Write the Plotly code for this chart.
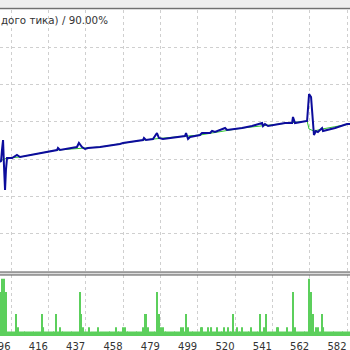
import plotly.graph_objects as go

# ---- data ----
trades = list(range(390, 584))
lots = [
    1.0, 1.3, 1.3, 1.0, 0.1, 0.1, 0.1, 0.1, 0.1, 0.5,
    0.2, 0.1, 0.1, 0.1, 0.1, 0.1, 0.1, 0.1, 0.1, 0.1,
    0.1, 0.1, 0.1, 0.5, 0.2, 0.1, 0.1, 0.1, 0.1, 0.1,
    0.1, 0.5, 0.1, 0.2, 0.1, 0.1, 0.1, 0.1, 0.1, 0.1,
    0.1, 0.1, 0.1, 0.1, 1.0, 0.5, 0.2, 0.1, 0.1, 0.2,
    0.1, 0.1, 0.1, 0.1, 0.2, 0.1, 0.1, 0.1, 0.1, 0.1,
    0.1, 0.1, 0.1, 0.1, 0.2, 0.1, 0.1, 0.1, 0.2, 0.2,
    0.1, 0.1, 0.1, 0.1, 0.1, 0.1, 0.1, 0.1, 0.1, 0.2,
    0.5, 0.5, 0.2, 0.1, 0.1, 0.1, 0.1, 1.0, 0.5, 0.2,
    0.2, 0.1, 0.1, 0.1, 0.1, 0.1, 0.1, 0.1, 0.1, 0.1,
    0.2, 0.2, 0.1, 0.5, 0.2, 0.1, 0.1, 0.1, 0.1, 0.1,
    0.1, 0.2, 0.2, 0.1, 0.1, 0.2, 0.1, 0.2, 0.1, 0.1,
    0.2, 0.1, 0.1, 0.1, 0.2, 0.1, 0.2, 0.1, 0.1, 0.5,
    0.1, 0.2, 0.1, 0.1, 0.2, 0.1, 0.1, 0.1, 0.1, 0.2,
    0.1, 0.1, 0.1, 0.1, 0.5, 0.1, 0.2, 0.5, 0.1, 0.1,
    0.1, 0.1, 0.1, 0.2, 0.2, 0.1, 0.1, 0.1, 0.1, 0.2,
    0.1, 0.1, 1.0, 0.2, 0.1, 0.1, 0.1, 0.1, 0.1, 0.1,
    0.1, 1.3, 1.0, 0.5, 0.1, 0.2, 0.2, 0.1, 0.5, 0.2,
    0.1, 0.1, 0.1, 0.1, 0.1, 0.1, 0.1, 0.1, 0.1, 0.1,
    0.1, 0.1, 0.1, 0.1,
]

equity_x = [389.9, 390.5, 391.0, 391.6, 392.1, 392.7, 393.2, 393.8, 396.6, 399.3,
            401.0, 412.1, 421.5, 422.0, 423.1, 432.5, 433.6, 435.3, 437.0, 438.6,
            445.3, 456.3, 458.0, 469.1, 469.6, 470.7, 474.6, 476.8, 477.9, 480.1,
            486.8, 492.3, 492.9, 494.0, 495.1, 500.6, 501.7, 506.2, 507.3, 508.9,
            514.5, 515.6, 523.9, 529.4, 535.0, 535.5, 536.6, 538.3, 547.7, 551.6,
            552.1, 553.2, 559.9, 561.0, 562.1, 562.6, 563.7, 564.8, 565.9, 568.2,
            568.7, 575.4, 582.0, 583.7]
equity_y = [5923, 5950, 6245, 6513, 5843, 5172, 5709, 6031, 6031, 6111,
            6057, 6165, 6245, 6299, 6245, 6326, 6433, 6326, 6272, 6299,
            6326, 6406, 6433, 6513, 6567, 6513, 6540, 6701, 6567, 6540,
            6594, 6621, 6701, 6540, 6594, 6647, 6701, 6701, 6755, 6728,
            6835, 6782, 6835, 6889, 6969, 6889, 6943, 6889, 6969, 6969,
            7130, 6969, 7023, 7747, 7667, 7238, 6647, 6755, 6728, 6835,
            6755, 6835, 6943, 6943]

balance_x = [389.9, 393.8, 401.0, 421.5, 445.3, 469.1, 486.8, 500.6, 523.9,
             547.7, 559.9, 561.0, 563.7, 568.2, 583.7]
balance_y = [5950, 6031, 6057, 6245, 6326, 6513, 6594, 6647, 6835,
             6969, 7023, 6808, 6755, 6808, 6943]

tick_vals = [396, 416.67, 437.33, 458, 478.67, 499.33, 520, 540.67, 561.33, 582]
tick_text = ["396", "416", "437", "458", "479", "499", "520", "541", "562", "582"]

title_text = "дого тика) / 90.00%"

# ---- figure ----
fig = go.Figure()
fig.add_trace(go.Scatter(x=balance_x, y=balance_y, mode="lines",
                         line=dict(color="#2fc42f", width=1), yaxis="y",
                         hoverinfo="skip", showlegend=False))
fig.add_trace(go.Scatter(x=equity_x, y=equity_y, mode="lines",
                         line=dict(color="#0c0c9c", width=2), yaxis="y",
                         showlegend=False))
fig.add_trace(go.Bar(x=trades, y=lots, yaxis="y2",
                     marker=dict(color="#5ccf5c", line=dict(width=0)),
                     showlegend=False))

grid = dict(showgrid=True, gridcolor="#cfcfcf", gridwidth=1, griddash="3px,3px")

fig.update_layout(
    width=350, height=350,
    margin=dict(l=0, r=0, t=0, b=0, autoexpand=False),
    paper_bgcolor="white", plot_bgcolor="white",
    bargap=0.4,
    font=dict(family="DejaVu Sans", size=10, color="#333333"),
    xaxis=dict(range=[389.91, 583.66], tickvals=tick_vals, ticktext=tick_text,
               ticks="", showline=False, zeroline=False, automargin=False,
               ticklabelshift=-10, ticklabeloverflow="allow",
               ticklabelstandoff=3,
               tickfont=dict(family="DejaVu Sans", size=10, color="#333333"),
               anchor="y2", **grid),
    yaxis=dict(domain=[1 - 271 / 350, 1 - 10 / 350], range=[3000, 10000], dtick=1000,
               showticklabels=False, zeroline=False, anchor="x", automargin=False, **grid),
    yaxis2=dict(domain=[1 - 336 / 350, 1 - 275 / 350], range=[0, 1.386], automargin=False,
                showgrid=False, showticklabels=False, zeroline=False, anchor="x"),
    shapes=[
        dict(type="rect", xref="paper", yref="paper", x0=0, x1=1,
             y0=1 - 7.5 / 350, y1=1, fillcolor="#eeeeee", line=dict(width=0), layer="above"),
        dict(type="line", xref="paper", yref="paper", x0=0, x1=1,
             y0=1 - 8.5 / 350, y1=1 - 8.5 / 350, line=dict(color="#707070", width=1.5), layer="above"),
        dict(type="rect", xref="paper", yref="paper", x0=0, x1=1,
             y0=1 - 275 / 350, y1=1 - 272 / 350, fillcolor="#dddddd",
             line=dict(width=0), layer="above"),
        dict(type="line", xref="paper", yref="paper", x0=0, x1=1,
             y0=1 - 272 / 350, y1=1 - 272 / 350, line=dict(color="#555555", width=1), layer="above"),
        dict(type="line", xref="paper", yref="paper", x0=0, x1=1,
             y0=1 - 275 / 350, y1=1 - 275 / 350, line=dict(color="#555555", width=1), layer="above"),
    ],
    annotations=[
        dict(text=title_text, xref="paper", yref="paper", x=-0.003, y=1 - 19.5 / 350,
             xanchor="left", yanchor="middle", showarrow=False,
             font=dict(family="DejaVu Sans", size=10.3, color="#333333")),
    ],
)

fig.write_html("out.html")
